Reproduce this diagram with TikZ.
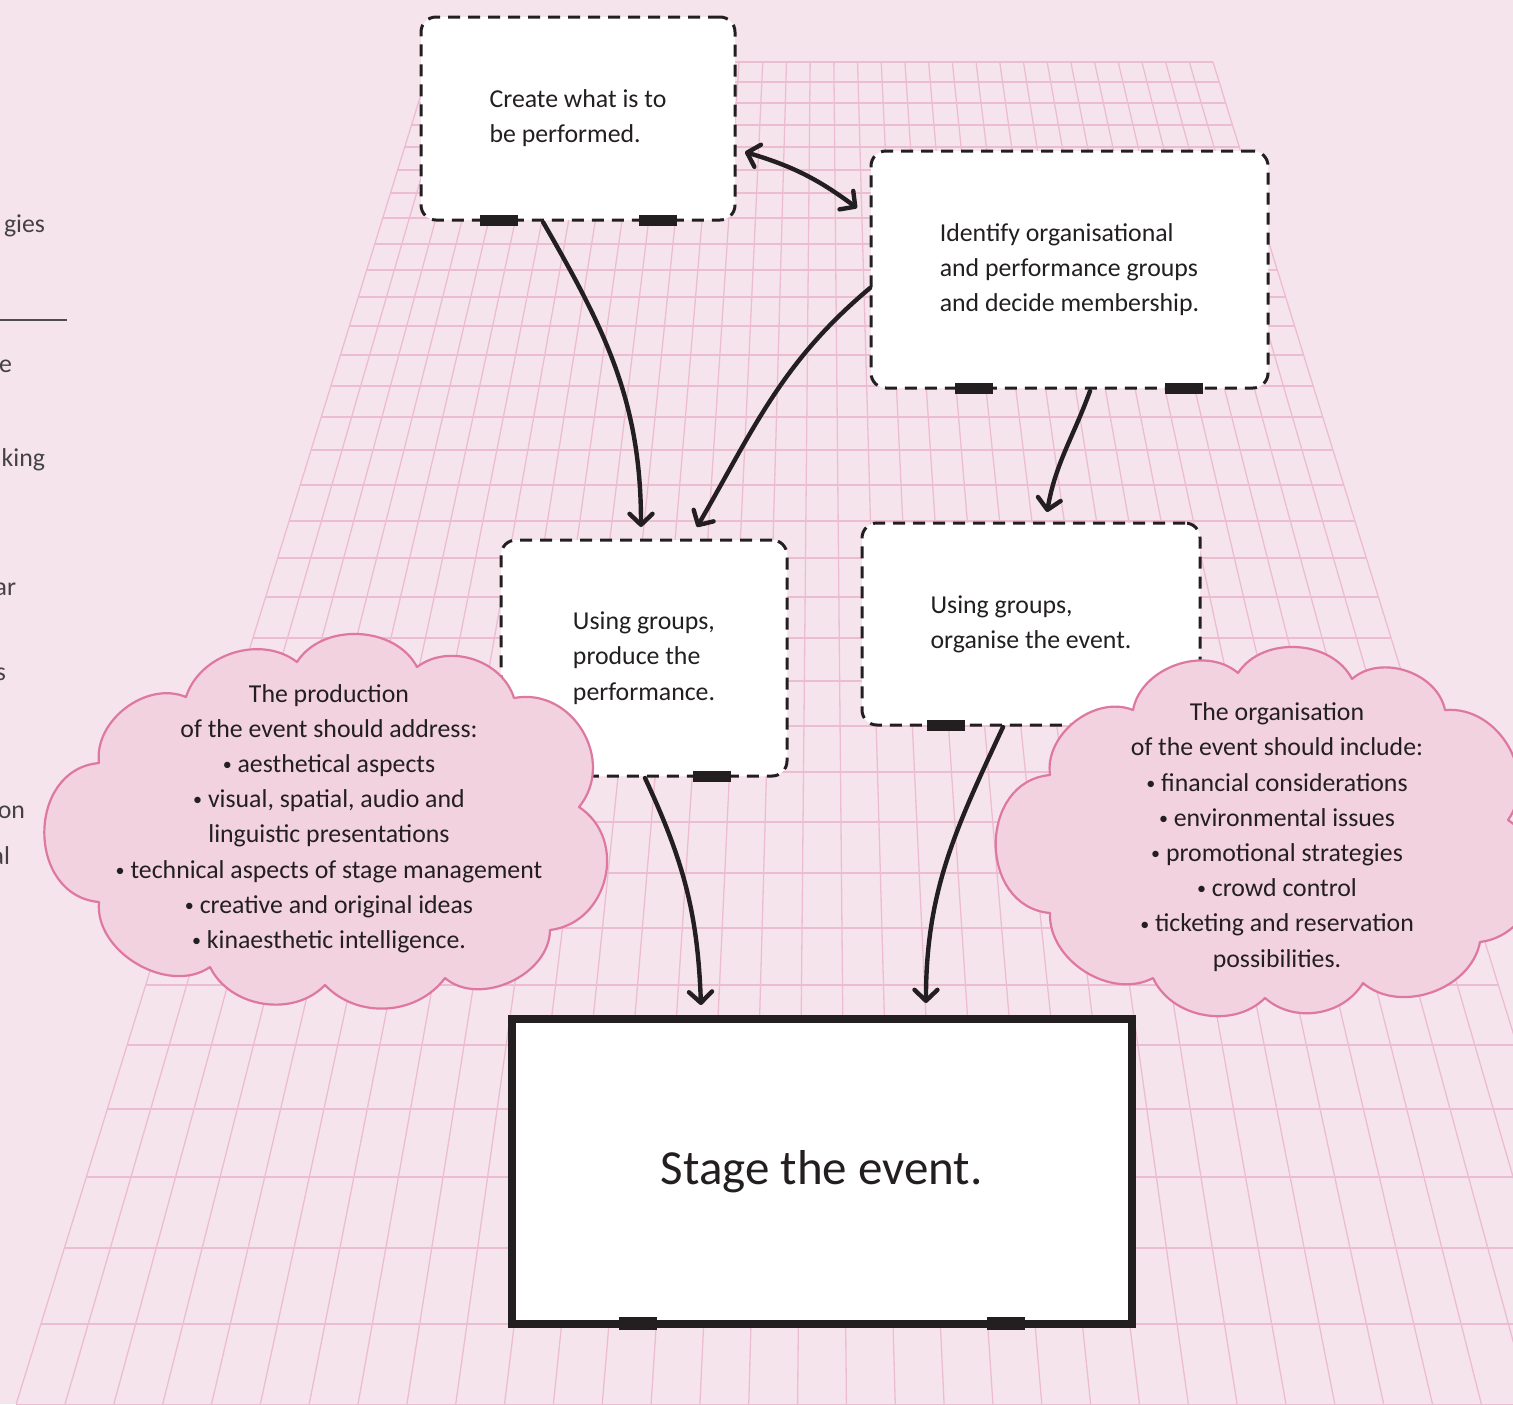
\documentclass[tikz,border=0pt]{standalone}
\usepackage{fontspec}
\usepackage{graphicx}
\setmainfont{Carlito}
\usetikzlibrary{arrows.meta,calc}
\definecolor{bgpink}{HTML}{F6E4EC}
\definecolor{gridpink}{HTML}{ECBDD1}
\definecolor{cloudfill}{HTML}{F1D2DE}
\definecolor{cloudline}{HTML}{DE78A0}
\definecolor{ink}{HTML}{231F20}
\newcommand\smallbul{\raisebox{0.15ex}{\scalebox{0.7}{\textbullet}}}
\begin{document}
\begin{tikzpicture}[x=0.5pt,y=-0.5pt,
  every node/.style={text=ink, inner sep=0pt, outer sep=0pt},
  bodytext/.style={font=\fontsize{12.9pt}{17.6pt}\selectfont},
  dashbox/.style={draw=ink, line width=1.5pt, dash pattern=on 6pt off 4pt, rounded corners=7.5pt, fill=white, align=left, bodytext},
  stagebox/.style={draw=ink, line width=4pt, fill=white, font=\fontsize{24.5pt}{28pt}\selectfont},
  tabmark/.style={fill=ink},
  barb/.tip={Straight Barb[length=5.5pt,width=11.5pt,line cap=round,line join=round]},
  conn/.style={draw=ink, line width=2.2pt, line cap=round, -barb},
  gridv/.style={draw=gridpink, line width=0.65pt},
  gridh/.style={draw=gridpink, line width=1pt},
  cloudshape/.style={fill=cloudfill, draw=cloudline, line width=1.1pt, line join=round},
  cloudtext/.style={bodytext, align=center},
  edgetext/.style={bodytext, text=ink!85, anchor=base east}
]
\fill[bgpink] (0,0) rectangle (1513,1404);
\useasboundingbox (0,0) rectangle (1513,1404);

\begin{scope}
\clip (0,0) rectangle (1513,1404);
% perspective grid
\foreach \i in {0,...,33}{
  \pgfmathsetmacro\xt{431+\i*23.697}
  \pgfmathsetmacro\xb{822+(\xt-822)*2.0609}
  \draw[gridv] (\xt,62) -- (\xb,1404);
}
\foreach \k in {0,...,33}{
  \pgfmathsetmacro\yy{-1220+1000*(100/(78.003-1.2092*\k))}
  \pgfmathsetmacro\xl{822-0.3091*(\yy+1203)}
  \pgfmathsetmacro\xr{822+0.3091*(\yy+1203)}
  \draw[gridh] (\xl,\yy) -- (\xr,\yy);
}
\end{scope}

% text cut off at the left edge (neighbouring page)
\node[edgetext] (t1) at (45,232) {gies};
\draw[ink!80, line width=0.7pt] (0,320) -- (67,320);
\node[edgetext] (t2) at (12,372) {e};
\node[edgetext] (t3) at (45,466) {king};
\node[edgetext] (t4) at (16,595) {ar};
\node[edgetext] (t5) at (6,680) {s};
\node[edgetext] (t6) at (25,818) {on};
\node[edgetext] (t7) at (10,864) {al};

% boxes
\node[dashbox, minimum width=157pt, minimum height=101.5pt] (b1) at (578,118.5)
  {Create what is to\\be performed.};
\node[dashbox, minimum width=198.5pt, minimum height=118.5pt] (b2) at (1069.5,269.5)
  {Identify organisational\\and performance groups\\and decide membership.};
\node[dashbox, minimum width=143pt, minimum height=118pt] (b3) at (644,658)
  {Using groups,\\produce the\\performance.};
\node[dashbox, minimum width=169pt, minimum height=101pt] (b4) at (1031,624)
  {Using groups,\\organise the event.};
\node[stagebox, minimum width=309.75pt, minimum height=152.5pt] (b5) at (821.75,1171.5)
  {Stage the event.};

% tabs on the lower edges
\fill[tabmark] (480,215) rectangle (518,226);
\fill[tabmark] (639,215) rectangle (677,226);
\fill[tabmark] (955,383) rectangle (993,394);
\fill[tabmark] (1165,383) rectangle (1203,394);
\fill[tabmark] (693,771) rectangle (731,782);
\fill[tabmark] (927,720) rectangle (965,731);
\fill[tabmark] (619,1317) rectangle (657,1330);
\fill[tabmark] (987,1317) rectangle (1025,1330);

% clouds
\path[cloudshape] (186,697) to[bend left=55] (297,662) to[bend left=60] (417,667)
  to[bend left=55] (514,698) to[bend left=70,looseness=1.2] (579,807)
  to[bend left=70,looseness=1.2] (550,930) to[bend left=65] (445,978)
  to[bend left=50] (325,985) to[bend left=55] (210,967) to[bend left=65] (99,902)
  to[bend left=85,looseness=1.35] (99,763) to[bend left=60] (186,697) -- cycle;
\node[cloudtext] (cl) at (329,818.5)
  {The production\\of the event should address:\\\smallbul\ aesthetical aspects\\\smallbul\ visual, spatial, audio and\\linguistic presentations\\\smallbul\ technical aspects of stage management\\\smallbul\ creative and original ideas\\\smallbul\ kinaesthetic intelligence.};

\path[cloudshape] (1133,710) to[bend left=60] (1238,673) to[bend left=60] (1352,679)
  to[bend left=60] (1445,710) to[bend left=65,looseness=1.1] (1508,820)
  to[bend left=70,looseness=1.2] (1480,942) to[bend left=60] (1363,983)
  to[bend left=50] (1265,998) to[bend left=55] (1153,978) to[bend left=60] (1050,913)
  to[bend left=85,looseness=1.35] (1050,775) to[bend left=60] (1133,710) -- cycle;
\node[cloudtext] (cr) at (1277,837)
  {The organisation\\of the event should include:\\\smallbul\ financial considerations\\\smallbul\ environmental issues\\\smallbul\ promotional strategies\\\smallbul\ crowd control\\\smallbul\ ticketing and reservation\\possibilities.};

% connectors
\draw[conn] ([xshift=-17.5pt,yshift=-1pt]b1.south) to[out=-60,in=90] ([xshift=-1.5pt,yshift=6.5pt]b3.north);
\draw[conn] ([xshift=-0.5pt,yshift=-9.25pt]b2.west) to[out=-140,in=60] ([xshift=26.5pt,yshift=6.5pt]b3.north);
\draw[conn, barb-barb] ([xshift=5pt,yshift=-16.75pt]b1.east) to[bend left=10] ([xshift=-7pt,yshift=30.75pt]b2.west);
\draw[conn] ([xshift=10.25pt,yshift=-1.5pt]b2.south) to[out=-110,in=80] ([xshift=8pt,yshift=5.5pt]b4.north);
\draw[conn] ([xshift=0.5pt,yshift=-1pt]b3.south) to[out=-65,in=92] ([xshift=-60.4pt,yshift=7pt]b5.north);
\draw[conn] ([xshift=-14pt,yshift=-1pt]b4.south) to[out=-115,in=90] ([xshift=52.1pt,yshift=8pt]b5.north);
\end{tikzpicture}
\end{document}
